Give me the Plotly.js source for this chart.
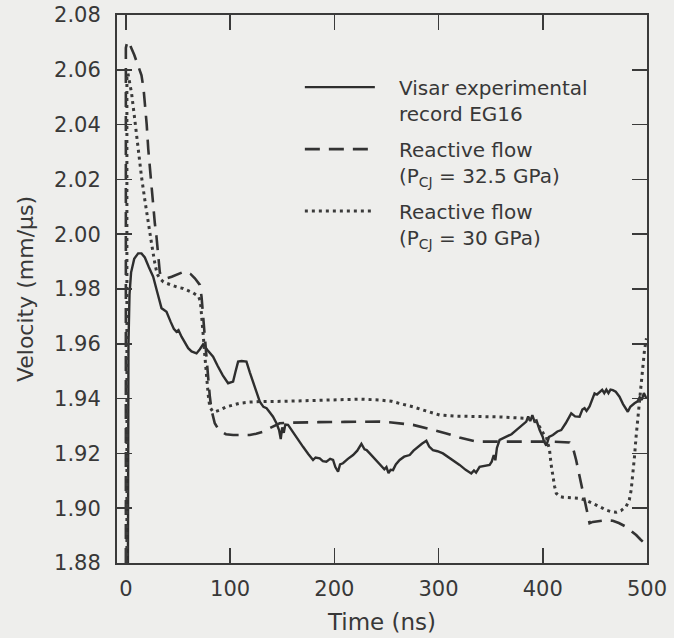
<!DOCTYPE html>
<html>
<head>
<meta charset="utf-8">
<script src="https://cdn.plot.ly/plotly-3.0.1.min.js"></script>
<style>
  html, body { margin: 0; padding: 0; background: #eeeeec; }
  #chart { width: 674px; height: 638px; }
</style>
</head>
<body>
<div id="chart"></div>
<script>
// VISAR record EG16: free-surface velocity vs time
const timeExp = [2, 2.5, 3.5, 5, 8, 11.8, 15, 18.2, 22, 26.2, 30, 34.2, 36, 39, 43, 46, 48.6, 50.5, 53.4, 57, 59.8, 63, 66, 67.8, 71, 74.1, 78, 83.7, 88, 93, 98.1, 102.9, 105, 107.7, 111, 115.7, 119, 123, 128.5, 132, 135, 138, 141.2, 144.5, 147, 148.6, 150, 151.5, 153, 155.6, 158, 160.4, 165, 170, 175, 179.6, 182, 186, 189, 192.4, 196, 198.8, 201, 203.6, 205.5, 208.3, 213, 218, 222, 226, 229, 231, 234, 239, 243.5, 248, 250, 252, 254, 256.3, 259, 262.7, 267, 272.3, 276, 280.3, 284, 288.3, 291, 294.6, 299, 304.2, 310, 315, 320.2, 326, 331.4, 334, 336, 339.4, 344, 349, 351, 353, 354.5, 356, 358.6, 362, 366.5, 370, 374.6, 379, 384.2, 386, 388, 390, 392.1, 394, 397, 400, 401, 403.4, 406, 409.7, 414, 417.7, 422, 427.3, 431, 435.3, 438, 440.1, 442, 444.9, 447, 449.7, 452, 454.5, 457, 459, 461, 463, 465, 467.2, 470, 473.6, 477, 481.6, 484, 488, 491, 493, 495, 497, 499.5];
const velExp = [1.880, 1.960, 1.978, 1.986, 1.991, 1.993, 1.993, 1.9915, 1.988, 1.9845, 1.979, 1.973, 1.9725, 1.9717, 1.968, 1.9655, 1.9644, 1.9650, 1.9626, 1.9600, 1.9584, 1.9572, 1.9568, 1.9565, 1.958, 1.9598, 1.9578, 1.9553, 1.952, 1.9485, 1.9456, 1.9462, 1.9495, 1.9535, 1.9537, 1.9535, 1.9495, 1.945, 1.9389, 1.937, 1.9365, 1.935, 1.9334, 1.931, 1.9285, 1.9252, 1.9295, 1.9275, 1.9305, 1.9304, 1.929, 1.9279, 1.925, 1.9224, 1.9198, 1.9176, 1.9185, 1.9182, 1.9172, 1.9170, 1.918, 1.9176, 1.915, 1.9133, 1.916, 1.9164, 1.918, 1.9194, 1.921, 1.9235, 1.9215, 1.9212, 1.92, 1.918, 1.9162, 1.9142, 1.9150, 1.9128, 1.914, 1.9139, 1.916, 1.9176, 1.9188, 1.9194, 1.9210, 1.9225, 1.9235, 1.9246, 1.9225, 1.9212, 1.9208, 1.9200, 1.9185, 1.917, 1.9158, 1.914, 1.9127, 1.9138, 1.9130, 1.9151, 1.9155, 1.9158, 1.917, 1.9194, 1.9175, 1.922, 1.9249, 1.9255, 1.9261, 1.927, 1.9285, 1.930, 1.9316, 1.9335, 1.9318, 1.934, 1.9316, 1.932, 1.9285, 1.926, 1.9245, 1.9228, 1.926, 1.9267, 1.928, 1.9285, 1.931, 1.9346, 1.9335, 1.9334, 1.936, 1.9365, 1.9355, 1.9371, 1.939, 1.9419, 1.9415, 1.9425, 1.9432, 1.942, 1.9433, 1.942, 1.9433, 1.9431, 1.9425, 1.9407, 1.938, 1.9352, 1.937, 1.9383, 1.939, 1.9405, 1.9395, 1.942, 1.9400];

// Reactive flow model, P_CJ = 32.5 GPa
const timeRF325 = [0, 0, 1.5, 4, 8, 12, 15, 17, 18.5, 20, 21.5, 23, 24.6, 26.2, 27.8, 29.4, 31, 32.6, 35, 39, 44, 50.2, 55, 58.2, 62, 66.2, 69, 71, 72.6, 74, 75.7, 77.3, 78.9, 80.5, 82.2, 85.3, 88.5, 91.8, 96, 102.9, 110, 118.9, 125, 131.6, 136, 141.2, 147.6, 155, 166.8, 185, 210, 235, 243.5, 255, 265, 275.5, 290, 307.5, 320, 330, 336, 360, 390, 410, 425.7, 429, 432, 434.5, 436.9, 439, 441.7, 443.5, 444.9, 448, 454.5, 461, 467.2, 473, 480, 485, 489.6, 494, 497, 499.2];
const velRF325 = [1.880, 2.068, 2.0705, 2.069, 2.0655, 2.0615, 2.058, 2.053, 2.047, 2.040, 2.031, 2.024, 2.017, 2.010, 2.004, 1.999, 1.9918, 1.9860, 1.9845, 1.9839, 1.9845, 1.9855, 1.9862, 1.9863, 1.9855, 1.9839, 1.9825, 1.9815, 1.9772, 1.970, 1.9638, 1.956, 1.948, 1.941, 1.9358, 1.9310, 1.929, 1.9279, 1.927, 1.9267, 1.9266, 1.9267, 1.9272, 1.9279, 1.9288, 1.9297, 1.9310, 1.9312, 1.9312, 1.9314, 1.9315, 1.9316, 1.9316, 1.9313, 1.9308, 1.9304, 1.929, 1.9273, 1.9258, 1.9248, 1.9243, 1.9243, 1.9243, 1.9243, 1.9240, 1.922, 1.9176, 1.913, 1.909, 1.905, 1.9006, 1.897, 1.8945, 1.8950, 1.8954, 1.8956, 1.8954, 1.8946, 1.8932, 1.8918, 1.8902, 1.8885, 1.8873, 1.8866];

// Reactive flow model, P_CJ = 30 GPa
const timeRF30 = [1, 1, 2, 5.5, 8.6, 11.8, 15, 18.2, 21.4, 24.6, 27.8, 30, 32.6, 36, 39, 45, 50, 55, 60, 64, 67.8, 70, 71.5, 73, 74.1, 75.7, 77.4, 79, 80.5, 83, 85.3, 90, 96.5, 103, 109.3, 118, 128.5, 150, 175, 200, 225, 243.5, 255, 265, 275.5, 288, 301, 315, 339.4, 360, 384.2, 392, 397, 401, 403.4, 405, 406.5, 408, 409.7, 411.3, 413, 416, 419.3, 427, 435.3, 442, 448, 455, 460.9, 466, 470.5, 475, 480, 483, 484.8, 486.5, 488, 489.5, 491.2, 492.8, 494.4, 496, 497.6, 499.5];
const velRF30 = [1.880, 2.058, 2.0587, 2.0514, 2.0417, 2.0307, 2.021, 2.0125, 2.004, 1.9967, 1.9894, 1.9855, 1.9838, 1.9826, 1.9821, 1.9812, 1.9806, 1.9802, 1.9795, 1.9787, 1.9778, 1.977, 1.9755, 1.970, 1.9638, 1.956, 1.948, 1.9415, 1.937, 1.9355, 1.9352, 1.9358, 1.937, 1.9378, 1.9383, 1.9387, 1.9389, 1.939, 1.9392, 1.9395, 1.9398, 1.9395, 1.9390, 1.938, 1.937, 1.9355, 1.934, 1.9336, 1.9334, 1.9333, 1.9328, 1.932, 1.9297, 1.927, 1.9261, 1.924, 1.9212, 1.916, 1.9115, 1.908, 1.9054, 1.9043, 1.904, 1.9037, 1.9036, 1.9028, 1.9018, 1.9005, 1.8993, 1.8987, 1.8985, 1.8991, 1.9006, 1.903, 1.9066, 1.912, 1.9188, 1.926, 1.9334, 1.9395, 1.9456, 1.9515, 1.9577, 1.962];

const seriesNames = [
  '\u00a0\u00a0\u00a0Visar experimental<br>\u00a0\u00a0\u00a0record EG16',
  '\u00a0\u00a0\u00a0Reactive flow<br>\u00a0\u00a0\u00a0(P<sub>CJ</sub> = 32.5 GPa)',
  '\u00a0\u00a0\u00a0Reactive flow<br>\u00a0\u00a0\u00a0(P<sub>CJ</sub> = 30 GPa)'
];
const xTicks = [0, 100, 200, 300, 400, 500];
const yTicks = [1.88, 1.90, 1.92, 1.94, 1.96, 1.98, 2.00, 2.02, 2.04, 2.06, 2.08];

const ink = '#383838';
const FONT = 'DejaVu Sans, sans-serif';

const traces = [
  { x: timeExp, y: velExp, name: seriesNames[0], legendgroup: 'a', mode: 'lines',
    line: { color: '#2e2e2e', width: 2.4 } },
  { x: timeRF325, y: velRF325, name: seriesNames[1], legendgroup: 'b', mode: 'lines',
    line: { color: '#333333', width: 2.6, dash: '15px,9px' } },
  { x: timeRF30, y: velRF30, name: seriesNames[2], legendgroup: 'c', mode: 'lines',
    line: { color: '#3a3a3a', width: 3, dash: '3px,4px' } }
];

const axisCommon = {
  showgrid: false, zeroline: false,
  showline: true, linecolor: '#3a3a3a', linewidth: 2, mirror: 'ticks',
  ticks: 'inside', ticklen: 15, tickwidth: 1.6, tickcolor: '#3a3a3a',
  tickfont: { family: FONT, size: 21, color: ink }
};

const layout = {
  width: 674, height: 638,
  margin: { l: 117, r: 27, t: 15, b: 75 },
  paper_bgcolor: '#eeeeec', plot_bgcolor: '#eeeeec',
  showlegend: true,
  legend: {
    x: 0.345, y: 0.904, xanchor: 'left', yanchor: 'top',
    bgcolor: 'rgba(0,0,0,0)', borderwidth: 0,
    font: { family: FONT, size: 20, color: ink },
    itemwidth: 70, valign: 'top', tracegroupgap: 7, traceorder: 'grouped'
  },
  xaxis: Object.assign({}, axisCommon, {
    range: [-8.5, 500], tickvals: xTicks, ticktext: xTicks.map(String),
    ticklabelstandoff: 6,
    title: { text: 'Time (ns)', font: { family: FONT, size: 23, color: ink }, standoff: 14 }
  }),
  yaxis: Object.assign({}, axisCommon, {
    range: [1.88, 2.08], tickvals: yTicks, ticktext: yTicks.map(v => v.toFixed(2)),
    ticklabelstandoff: 10,
    title: { text: 'Velocity (mm/\u03bcs)', font: { family: FONT, size: 22, color: ink }, standoff: 14 }
  })
};

Plotly.newPlot('chart', traces, layout, { displayModeBar: false, staticPlot: true });
</script>
</body>
</html>
